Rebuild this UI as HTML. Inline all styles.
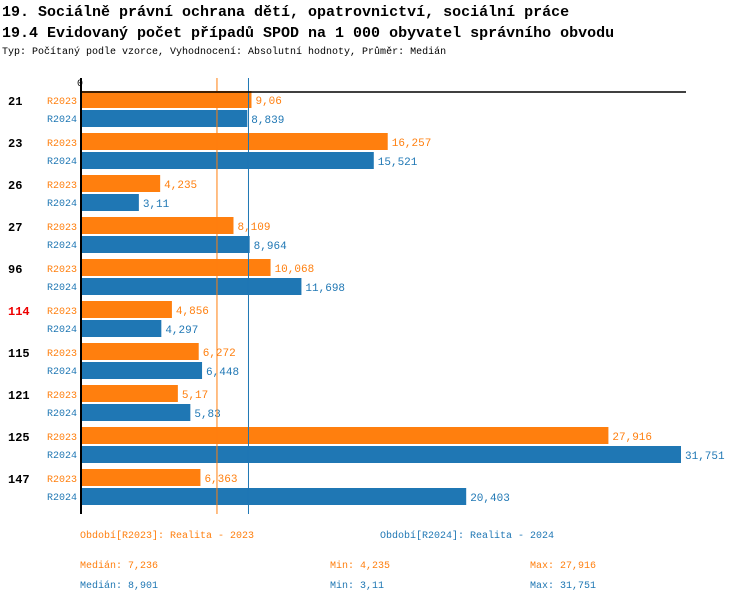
<!DOCTYPE html>
<html><head><meta charset="utf-8"><style>
body{margin:0;background:#fff;}
svg{display:block;font-family:"Liberation Mono",monospace;}
</style></head><body>
<svg id="c" width="750" height="602">
<text x="2" y="16" font-size="15" font-weight="bold" fill="#000">19. Sociálně právní ochrana dětí, opatrovnictví, sociální práce</text>
<text x="2" y="37" font-size="15" font-weight="bold" fill="#000">19.4 Evidovaný počet případů SPOD na 1 000 obyvatel správního obvodu</text>
<text x="2" y="54" font-size="10" fill="#000">Typ: Počítaný podle vzorce, Vyhodnocení: Absolutní hodnoty, Průměr: Medián</text>
<g id="plot"></g>
<g font-size="10">
<text x="80" y="538" fill="#ff7f0e">Období[R2023]: Realita - 2023</text>
<text x="380" y="538" fill="#1f77b4">Období[R2024]: Realita - 2024</text>
<text x="80" y="568" fill="#ff7f0e">Medián: 7,236</text>
<text x="330" y="568" fill="#ff7f0e">Min: 4,235</text>
<text x="530" y="568" fill="#ff7f0e">Max: 27,916</text>
<text x="80" y="588" fill="#1f77b4">Medián: 8,901</text>
<text x="330" y="588" fill="#1f77b4">Min: 3,11</text>
<text x="530" y="588" fill="#1f77b4">Max: 31,751</text>
</g>
</svg>
<script>
const categories=["21","23","26","27","96","114","115","121","125","147"];
const values2023=[9.06,16.257,4.235,8.109,10.068,4.856,6.272,5.17,27.916,6.363];
const values2024=[8.839,15.521,3.11,8.964,11.698,4.297,6.448,5.83,31.751,20.403];
const labels2023=["9,06","16,257","4,235","8,109","10,068","4,856","6,272","5,17","27,916","6,363"];
const labels2024=["8,839","15,521","3,11","8,964","11,698","4,297","6,448","5,83","31,751","20,403"];
const medians=[7.236,8.901];
const highlighted=["114"];
const NS="http://www.w3.org/2000/svg";
const g=document.getElementById('plot');
const x0=80,scale=601/31.751;
const xs=v=>x0+v*scale;
const gy=i=>91+i*42;
function el(t,a){const e=document.createElementNS(NS,t);for(const k in a)e.setAttribute(k,a[k]);g.appendChild(e);return e;}
const C1="#ff7f0e",C2="#1f77b4";
categories.forEach((c,i)=>{
  const y=gy(i);
  let r=el('rect',{x:x0,y:y,width:xs(values2023[i])-x0,height:17,fill:C1});
  
  
  r=el('rect',{x:x0,y:y+19,width:xs(values2024[i])-x0,height:17,fill:C2});
  
  
  let t=el('text',{x:xs(values2023[i])+4,y:y+13,'font-size':11,fill:C1});t.textContent=labels2023[i];
  
  
  t=el('text',{x:xs(values2024[i])+4,y:y+32,'font-size':11,fill:C2});t.textContent=labels2024[i];
  
  
  t=el('text',{x:47,y:y+13,'font-size':10,fill:C1});t.textContent="R2023";
  
  
  t=el('text',{x:47,y:y+31,'font-size':10,fill:C2});t.textContent="R2024";
  
  
  t=el('text',{x:8,y:y+14,'font-size':12,'font-weight':'bold',fill:highlighted.includes(c)?"#e00":"#000"});t.textContent=c;
  
  
});
[C1,C2].forEach((col,k)=>{
  const l=el('line',{x1:xs(medians[k]),x2:xs(medians[k]),y1:78,y2:514,stroke:col,'stroke-width':1});
  
  
});
let a=el('line',{x1:81,x2:81,y1:78,y2:514,stroke:'#000','stroke-width':2});


a=el('line',{x1:80,x2:686,y1:92,y2:92,stroke:'#000','stroke-width':1.5});


let z=el('text',{x:77,y:86,'font-size':10,fill:'#000'});z.textContent="0";


</script>
</body></html>
